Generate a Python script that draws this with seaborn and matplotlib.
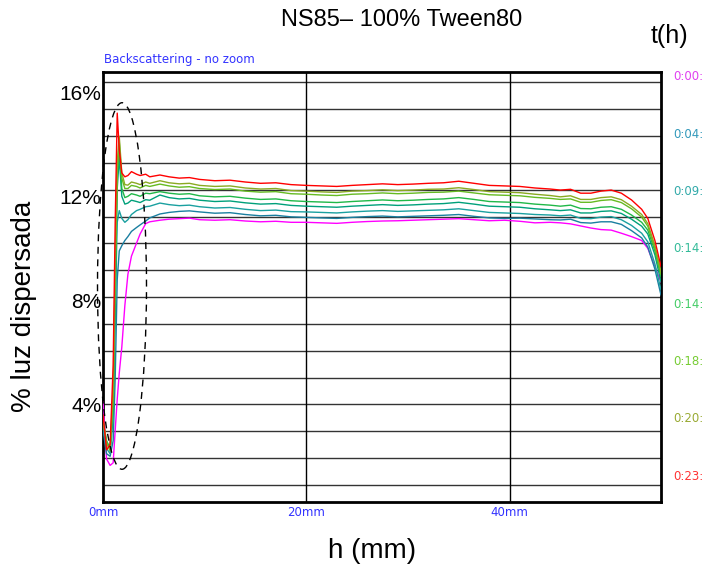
import numpy as np
import pandas as pd
import matplotlib
matplotlib.use("Agg")
import matplotlib.pyplot as plt
import seaborn as sns
from matplotlib.patches import Ellipse

# ---------------- data ----------------
h_mm = [0, 0.35, 0.7, 1.0, 1.2, 1.4, 1.6, 1.85, 2.15, 2.45,
        2.8, 3.3, 3.65, 4.2, 4.6, 5.6, 6.5, 7.5, 8.5, 9.5,
        11, 12.5, 14, 15.5, 17, 18.5, 20, 21.5, 23, 24.5,
        26, 27.5, 29, 30.5, 32, 33.5, 35, 36.5, 38, 39.5,
        41, 42.5, 44, 45, 46, 47, 48, 49, 50, 51,
        52, 53, 53.6, 54.3, 54.9]

bs_0000 = [4.1, 1.9, 1.65, 1.75, 3.0, 4.2, 5.2, 6.2, 7.8, 9.0,
           9.7, 10.2, 10.55, 10.95, 11.02, 11.08, 11.12, 11.14, 11.16, 11.1,
           11.08, 11.1, 11.05, 11.02, 11.04, 11.0, 11.0, 10.98, 10.96, 11.0,
           11.03, 11.05, 11.06, 11.08, 11.1, 11.12, 11.14, 11.1, 11.06, 11.08,
           11.04, 10.98, 11.0, 10.98, 10.94, 10.86, 10.78, 10.72, 10.7, 10.58,
           10.45, 10.3, 10.0, 9.3, 8.7]
bs_0004 = [3.0, 2.1, 2.0, 2.6, 5.0, 8.8, 9.9, 10.1, 10.3, 10.45,
           10.65, 10.8, 10.9, 11.05, 11.17, 11.32, 11.38, 11.42, 11.44, 11.4,
           11.35, 11.37, 11.3, 11.25, 11.27, 11.21, 11.19, 11.17, 11.15, 11.19,
           11.22, 11.24, 11.21, 11.23, 11.25, 11.27, 11.3, 11.23, 11.17, 11.15,
           11.16, 11.13, 11.1, 11.09, 11.12, 10.99, 10.97, 11.02, 11.02, 10.92,
           10.68, 10.4, 10.05, 9.2, 8.2]
bs_0009 = [3.2, 2.3, 2.1, 3.5, 7.5, 11.0, 11.45, 11.15, 11.0, 11.1,
           11.3, 11.45, 11.5, 11.6, 11.62, 11.74, 11.68, 11.64, 11.66, 11.6,
           11.55, 11.57, 11.5, 11.45, 11.47, 11.41, 11.4, 11.38, 11.36, 11.4,
           11.43, 11.45, 11.42, 11.44, 11.46, 11.48, 11.52, 11.45, 11.38, 11.36,
           11.34, 11.3, 11.28, 11.25, 11.28, 11.15, 11.14, 11.2, 11.22, 11.1,
           10.88, 10.58, 10.25, 9.4, 8.4]
bs_0014a = [3.3, 2.5, 2.4, 3.8, 8.0, 12.3, 13.5, 12.0, 11.7, 11.74,
            11.85, 11.8, 11.76, 11.87, 11.85, 12.05, 11.95, 11.9, 11.92, 11.85,
            11.8, 11.82, 11.75, 11.7, 11.72, 11.65, 11.62, 11.6, 11.58, 11.62,
            11.65, 11.68, 11.65, 11.67, 11.7, 11.72, 11.77, 11.7, 11.62, 11.6,
            11.58, 11.52, 11.48, 11.45, 11.48, 11.36, 11.36, 11.42, 11.44, 11.34,
            11.12, 10.85, 10.55, 9.75, 8.7]
bs_0014b = [3.4, 2.6, 2.3, 4.0, 8.5, 12.8, 13.9, 12.3, 11.95, 12.0,
            12.1, 12.05, 12.0, 12.12, 12.1, 12.18, 12.12, 12.08, 12.1, 12.02,
            11.98, 12.0, 11.93, 11.88, 11.9, 11.83, 11.8, 11.78, 11.76, 11.8,
            11.83, 11.86, 11.83, 11.85, 11.88, 11.9, 11.95, 11.88, 11.8, 11.78,
            11.76, 11.7, 11.66, 11.62, 11.66, 11.53, 11.52, 11.58, 11.6, 11.5,
            11.28, 11.0, 10.7, 9.9, 8.9]
bs_0018 = [3.3, 2.55, 2.2, 4.2, 9.0, 13.0, 14.1, 12.7, 12.3, 12.3,
           12.42, 12.38, 12.32, 12.42, 12.38, 12.47, 12.4, 12.35, 12.37, 12.3,
           12.26, 12.28, 12.2, 12.16, 12.18, 12.1, 12.08, 12.05, 12.03, 12.08,
           12.1, 12.13, 12.1, 12.12, 12.15, 12.16, 12.2, 12.13, 12.06, 12.04,
           12.02, 11.96, 11.92, 11.88, 11.9, 11.77, 11.77, 11.84, 11.87, 11.76,
           11.52, 11.2, 10.85, 10.0, 9.0]
bs_0020 = [3.5, 2.45, 2.3, 4.6, 9.5, 13.3, 14.3, 12.9, 12.45, 12.43,
           12.55, 12.5, 12.45, 12.55, 12.5, 12.6, 12.52, 12.48, 12.5, 12.42,
           12.38, 12.4, 12.32, 12.28, 12.3, 12.22, 12.2, 12.17, 12.15, 12.2,
           12.22, 12.25, 12.22, 12.24, 12.27, 12.28, 12.33, 12.26, 12.18, 12.16,
           12.14, 12.08, 12.03, 11.98, 12.02, 11.88, 11.88, 11.95, 11.98, 11.87,
           11.62, 11.3, 10.95, 10.1, 9.1]
bs_0023 = [3.6, 2.25, 2.45, 5.5, 11.0, 15.2, 13.8, 12.9, 12.75, 12.8,
           12.95, 12.85, 12.8, 12.85, 12.75, 12.82, 12.75, 12.7, 12.72, 12.65,
           12.6, 12.62, 12.55, 12.5, 12.52, 12.45, 12.42, 12.4, 12.38, 12.42,
           12.45, 12.48, 12.45, 12.47, 12.5, 12.52, 12.58, 12.5, 12.42, 12.4,
           12.38, 12.32, 12.28, 12.24, 12.27, 12.12, 12.12, 12.2, 12.24, 12.12,
           11.86, 11.5, 11.15, 10.3, 9.3]

series_keys = ["0:00", "0:04", "0:09", "0:14a", "0:14b", "0:18", "0:20", "0:23"]
series_vals = [bs_0000, bs_0004, bs_0009, bs_0014a, bs_0014b, bs_0018, bs_0020, bs_0023]
time_labels = ["0:00:", "0:04:", "0:09:", "0:14:", "0:14:", "0:18:", "0:20:", "0:23:"]
line_colors = ["#ff00ff", "#1a7fa0", "#1aa0a0", "#00a07a", "#20b848", "#66bb22", "#8aaa22", "#ff0000"]
label_colors = ["#e040f0", "#3399bb", "#33aaaa", "#33bb99", "#44cc66", "#77cc33", "#99aa33", "#ff3333"]

y_ticks = [4, 8, 12, 16]
y_ticklabels = ["4%", "8%", "12%", "16%"]
x_ticks = [0, 20, 40]
x_ticklabels = ["0mm", "20mm", "40mm"]

# ---------------- figure ----------------
sns.set_style("white")
plt.rcParams['font.family'] = ['Liberation Sans', 'DejaVu Sans']
plt.rcParams['text.color'] = 'black'
plt.rcParams['axes.labelcolor'] = 'black'
plt.rcParams['xtick.color'] = 'black'
plt.rcParams['ytick.color'] = 'black'

W, H = 706, 572
fig = plt.figure(figsize=(W / 100, H / 100), dpi=100)
L, R, T, B = 103, 661, 72.3, 502
ax = fig.add_axes([L / W, 1 - B / H, (R - L) / W, (B - T) / H])

df = pd.concat([pd.DataFrame({"h": h_mm, "bs": v, "serie": k})
                for k, v in zip(series_keys, series_vals)], ignore_index=True)

# horizontal grid (instrument grid, evenly spaced, not aligned with labels)
for gy in np.linspace(0.896, 16.385, 16):
    ax.axhline(gy, color="#333333", lw=1.0, zorder=0)
for gx in [20, 40]:
    ax.axvline(gx, color="black", lw=1.0, zorder=0)

sns.lineplot(data=df, x="h", y="bs", hue="serie", hue_order=series_keys,
             palette=dict(zip(series_keys, line_colors)), estimator=None,
             sort=False, legend=False, linewidth=1.0, ax=ax, zorder=3)

ax.set_xlim(0, 54.9)
ax.set_ylim(0.242, 16.77)
ax.set_xlabel("")
ax.set_ylabel("")
ax.set_yticks(y_ticks)
ax.set_yticklabels(y_ticklabels, fontsize=15, family=['Liberation Sans'], color="black")
ax.set_xticks(x_ticks)
ax.set_xticklabels(x_ticklabels, fontsize=8.5, color="#3333ff", family=['DejaVu Sans'])
ax.tick_params(axis="y", length=0, pad=1)
ax.tick_params(axis="x", length=0, pad=3)
for s in ax.spines.values():
    s.set_color("black")
    s.set_linewidth(2)

# dashed ellipse around the low-height zone
ax.add_patch(Ellipse((1.87, 8.55), width=4.82, height=14.1, fill=False,
                     ls=(0, (5, 4)), lw=1.0, ec="black", clip_on=False, zorder=5))

# texts
fig.text(402 / W, 1 - 20 / H, "NS85– 100% Tween80", fontsize=17,
         ha="center", va="center", color="black")
fig.text(669 / W, 1 - 36 / H, "t(h)", fontsize=18, ha="center", va="center", color="black")
fig.text(24 / W, 1 - 306 / H, "% luz dispersada", fontsize=20, rotation=90,
         ha="center", va="center", color="black")
fig.text(372 / W, 1 - 551 / H, "h (mm)", fontsize=20, ha="center", va="center", color="black")
fig.text(104 / W, 1 - 59.5 / H, "Backscattering - no zoom", fontsize=8.5,
         color="#3333ff", family=['DejaVu Sans'], ha="left", va="center")

label_y = [76.7, 134.3, 191.7, 249, 305, 361.7, 419, 476.7]
for txt, col, yy in zip(time_labels, label_colors, label_y):
    fig.text(673 / W, 1 - yy / H, txt, fontsize=8.5, color=col,
             family=['DejaVu Sans'], ha="left", va="center")

fig.savefig("out.png", dpi=100)
